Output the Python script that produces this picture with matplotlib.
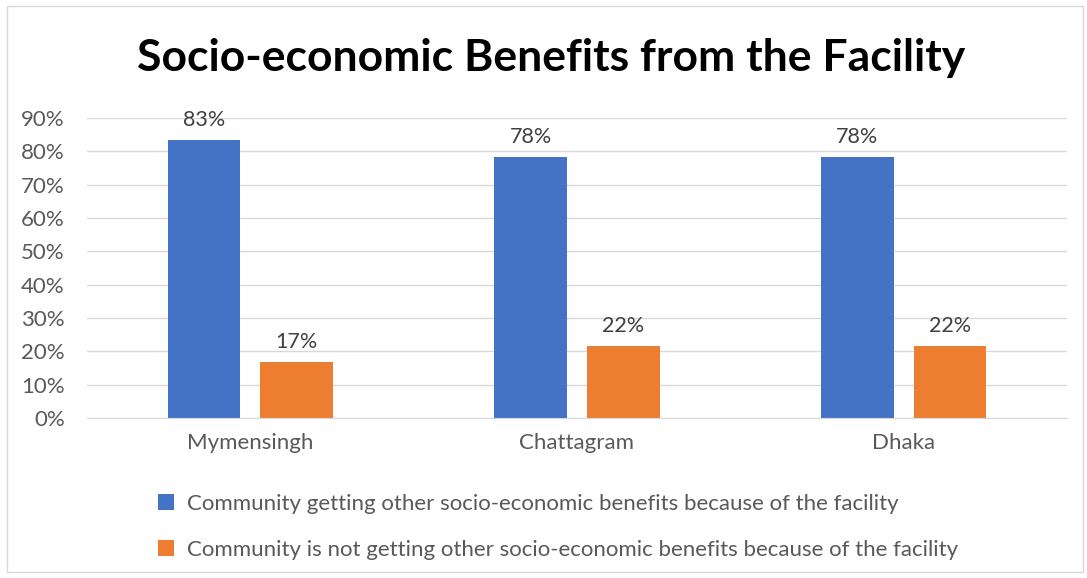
import matplotlib
matplotlib.use("Agg")
import matplotlib.pyplot as plt
from matplotlib.patches import Rectangle
import numpy as np

categories = ["Mymensingh", "Chattagram", "Dhaka"]
getting = [83.3, 78.4, 78.3]
not_getting = [16.7, 21.6, 21.7]
series_names = ["Community getting other socio-economic benefits because of the facility",
                "Community is not getting other socio-economic benefits because of the facility"]
title = "Socio-economic Benefits from the Facility"

plt.rcParams['font.family'] = ['Lato', 'DejaVu Sans']
gray = "#595959"
blue = "#4472C4"
orange = "#ED7D31"

fig = plt.figure(figsize=(10.87, 5.78), dpi=100)
fig.patches.append(Rectangle((0.006, 0.01), 0.99, 0.98, transform=fig.transFigure,
                             fill=False, edgecolor="#D9D9D9", lw=1))
ax = fig.add_axes([87/1087, 1-418/578, (1067-87)/1087, 300/578*1.0])
x = np.arange(len(categories))
w = 0.223
off = (w + 0.061) / 2
b1 = ax.bar(x - off, getting, w, color=blue, label=series_names[0])
b2 = ax.bar(x + off, not_getting, w, color=orange, label=series_names[1])
for bars, vals in ((b1, getting), (b2, not_getting)):
    for r, v in zip(bars, vals):
        ax.text(r.get_x() + r.get_width()/2, v + 3.0, f"{round(v):.0f}%", ha="center", va="bottom",
                fontsize=15.5, color="#404040")
ax.set_xlim(-0.5, 2.5)
ax.set_ylim(0, 90)
ax.set_yticks(range(0, 91, 10))
ax.set_yticklabels([f"{t}%" for t in range(0, 91, 10)])
ax.set_xticks(x)
ax.set_xticklabels(categories)
ax.tick_params(axis="both", length=0, labelsize=16, colors=gray)
ax.tick_params(axis="y", pad=16)
ax.tick_params(axis="x", pad=11)
ax.yaxis.grid(True, color="#D9D9D9", lw=1)
ax.set_axisbelow(True)
for s in ["top", "right", "left"]:
    ax.spines[s].set_visible(False)
ax.spines["bottom"].set_color("#D9D9D9")
fig.text(551/1087, 1-58/578, title, ha="center", va="center", fontsize=32, fontweight="bold", color="black")
leg = fig.legend(handles=[b1, b2], loc="upper left", bbox_to_anchor=(138/1087, 1-474/578),
                 frameon=False, fontsize=16, labelcolor=gray, handlelength=0.7, handleheight=0.7,
                 labelspacing=1.15, handletextpad=0.6)
fig.savefig("out.png", dpi=100)
